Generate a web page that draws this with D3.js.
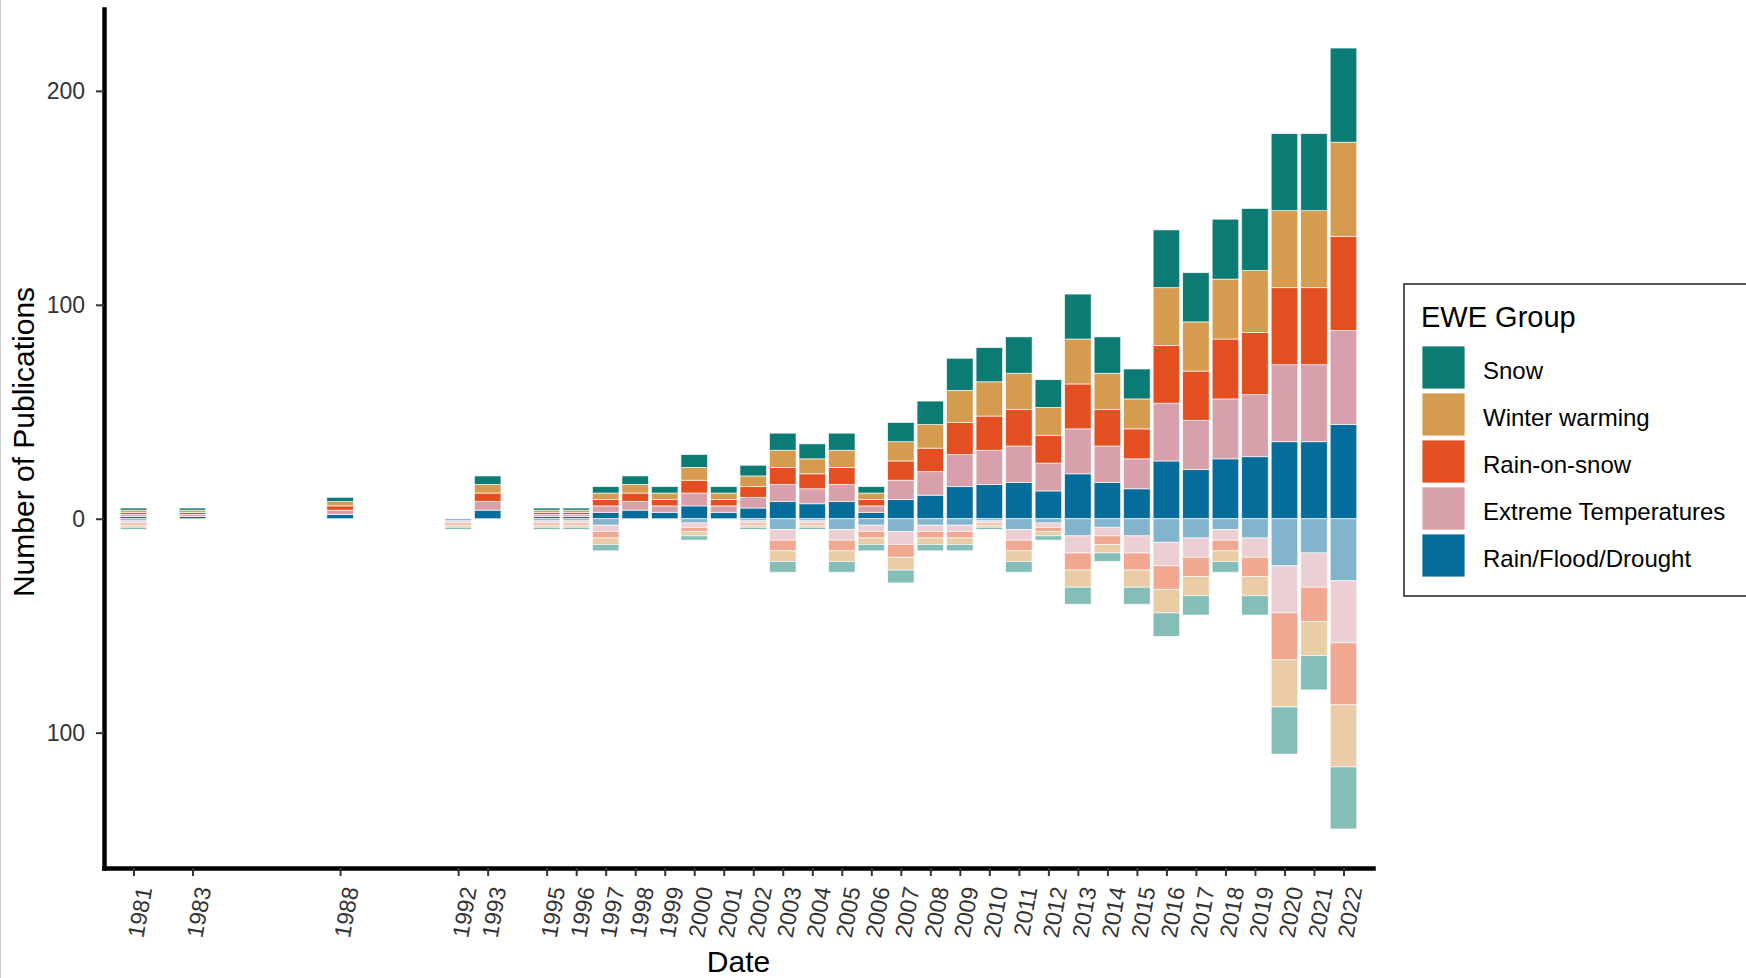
<!DOCTYPE html>
<html><head><meta charset="utf-8">
<script src="https://cdn.jsdelivr.net/npm/d3@7"></script>
<style>
html,body{margin:0;padding:0;background:#fff;}
svg{display:block;}
text{font-family:"Liberation Sans", Arial, sans-serif;}
</style></head><body>
<svg id="chart" width="1746" height="978"></svg>
<script>
// ---- data ----
const years = [1981,1983,1988,1992,1993,1995,1996,1997,1998,1999,2000,2001,2002,2003,2004,2005,2006,2007,2008,2009,2010,2011,2012,2013,2014,2015,2016,2017,2018,2019,2020,2021,2022];
const groups = ["Snow","Winter warming","Rain-on-snow","Extreme Temperatures","Rain/Flood/Drought"];
const groupColors = ["#0b7b74","#d59b4e","#e34f21","#d8a0aa","#066c9c"];

// publications above zero (per group, per year)
const snowPos   = [1,1,2,0,4,1,1,3,4,3,6,3,5,8,7,8,3,9,11,15,16,17,13,21,17,14,27,23,28,29,36,36,44];
const winterPos = [1,1,2,0,4,1,1,3,4,3,6,3,5,8,7,8,3,9,11,15,16,17,13,21,17,14,27,23,28,29,36,36,44];
const rosPos    = [1,1,2,0,4,1,1,3,4,3,6,3,5,8,7,8,3,9,11,15,16,17,13,21,17,14,27,23,28,29,36,36,44];
const extTPos   = [1,1,2,0,4,1,1,3,4,3,6,3,5,8,7,8,3,9,11,15,16,17,13,21,17,14,27,23,28,29,36,36,44];
const rfdPos    = [1,1,2,0,4,1,1,3,4,3,6,3,5,8,7,8,3,9,11,15,16,17,13,21,17,14,27,23,28,29,36,36,44];
// publications below zero (per group, per year)
const snowNeg   = [1,0,0,1,0,1,1,3,0,0,2,0,1,5,1,5,3,6,3,3,1,5,2,8,4,8,11,9,5,9,22,16,29];
const winterNeg = [1,0,0,1,0,1,1,3,0,0,2,0,1,5,1,5,3,6,3,3,1,5,2,8,4,8,11,9,5,9,22,16,29];
const rosNeg    = [1,0,0,1,0,1,1,3,0,0,2,0,1,5,1,5,3,6,3,3,1,5,2,8,4,8,11,9,5,9,22,16,29];
const extTNeg   = [1,0,0,1,0,1,1,3,0,0,2,0,1,5,1,5,3,6,3,3,1,5,2,8,4,8,11,9,5,9,22,16,29];
const rfdNeg    = [1,0,0,1,0,1,1,3,0,0,2,0,1,5,1,5,3,6,3,3,1,5,2,8,4,8,11,9,5,9,22,16,29];
const yTickValues = [-100,0,100,200];

// ---- table for the stack ----
const posSeries = {"Snow":snowPos,"Winter warming":winterPos,"Rain-on-snow":rosPos,"Extreme Temperatures":extTPos,"Rain/Flood/Drought":rfdPos};
const negSeries = {"Snow":snowNeg,"Winter warming":winterNeg,"Rain-on-snow":rosNeg,"Extreme Temperatures":extTNeg,"Rain/Flood/Drought":rfdNeg};
const stackOrder = groups.slice().reverse(); // Rain/Flood/Drought nearest zero
const keys = stackOrder.map(g => g + "|pos").concat(stackOrder.map(g => g + "|neg"));
const table = years.map((yr, i) => {
  const row = {year: yr};
  groups.forEach(g => { row[g + "|pos"] = posSeries[g][i]; row[g + "|neg"] = -negSeries[g][i]; });
  return row;
});
const stacked = d3.stack().keys(keys).offset(d3.stackOffsetDiverging)(table);
const colorOf = g => groupColors[groups.indexOf(g)];

// ---- layout ----
const svg = d3.select("#chart");
const x = d3.scaleLinear().domain([1980, 2023]).range([104, 1373]);
const y = d3.scaleLinear().domain([-163.25, 238.25]).range([868, 9]);
const bw = x(1980.9) - x(1980);

svg.append("line").attr("x1",0.5).attr("x2",0.5).attr("y1",0).attr("y2",978)
  .attr("stroke","#cfcfcf").attr("stroke-width",1);

const barsG = svg.append("g");
stacked.forEach(s => {
  const [g, side] = s.key.split("|");
  barsG.append("g")
    .attr("fill", colorOf(g))
    .attr("fill-opacity", side === "neg" ? 0.5 : 1)
    .selectAll("rect")
    .data(s.filter(d => d[1] !== d[0]))
    .join("rect")
    .attr("x", d => x(d.data.year) - bw/2)
    .attr("width", bw)
    .attr("y", d => y(Math.max(d[0], d[1])))
    .attr("height", d => Math.abs(y(d[0]) - y(d[1])))
    .attr("stroke", "#ffffff")
    .attr("stroke-opacity", 0.8)
    .attr("stroke-width", 0.8);
});

// y axis
const yAxis = svg.append("g").attr("transform","translate(104,0)")
  .call(d3.axisLeft(y).tickValues(yTickValues).tickFormat(d => Math.abs(d)).tickSize(8).tickSizeOuter(0).tickPadding(11));
yAxis.select(".domain").attr("stroke","#000").attr("stroke-width",4.5).attr("stroke-linecap","square");
yAxis.selectAll(".tick line").attr("stroke","#333").attr("stroke-width",2);
yAxis.selectAll(".tick text").attr("font-size","23px").attr("fill","#333")
  .attr("font-family","'Liberation Sans', Arial, sans-serif");

// x axis
const xAxis = svg.append("g").attr("transform","translate(0,868)")
  .call(d3.axisBottom(x).tickValues(years).tickFormat(d => String(d)).tickSize(8).tickSizeOuter(0));
xAxis.select(".domain").attr("stroke","#000").attr("stroke-width",4.5).attr("stroke-linecap","square");
xAxis.selectAll(".tick line").attr("stroke","#333").attr("stroke-width",2);
xAxis.selectAll(".tick text")
  .attr("x",0).attr("y",0).attr("dy","0.36em")
  .attr("text-anchor","end")
  .attr("transform","translate(10,19) rotate(-80)")
  .attr("font-size","23px").attr("fill","#333")
  .attr("font-family","'Liberation Sans', Arial, sans-serif");

// axis titles
svg.append("text").attr("x",738.5).attr("y",972).attr("text-anchor","middle")
  .attr("font-size","30px").attr("fill","#000").text("Date");
svg.append("text").attr("transform","translate(33.5,442) rotate(-90)").attr("text-anchor","middle")
  .attr("font-size","30px").attr("fill","#000").text("Number of Publications");

// legend
const lg = svg.append("g");
lg.append("rect").attr("x",1404).attr("y",284).attr("width",400).attr("height",312)
  .attr("fill","#fff").attr("stroke","#222").attr("stroke-width",1.5);
lg.append("text").attr("x",1421).attr("y",327).attr("font-size","29px").attr("fill","#000").text("EWE Group");
groups.forEach((g, i) => {
  const top = 346 + i*47;
  lg.append("rect").attr("x",1422).attr("y",top).attr("width",43).attr("height",43)
    .attr("fill",colorOf(g)).attr("stroke","#fff").attr("stroke-width",0.8);
  lg.append("text").attr("x",1483).attr("y",top + 21.5 + 11).attr("font-size","24px").attr("fill","#000").text(g);
});
</script>
</body></html>
